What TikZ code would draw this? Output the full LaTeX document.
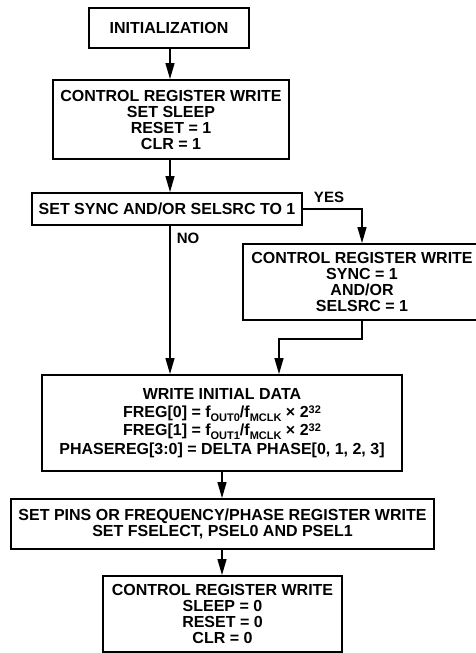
\documentclass[tikz,border=0pt]{standalone}
\usepackage{fontspec}
\setmainfont{Liberation Sans}
\usetikzlibrary{arrows.meta}
\lineskiplimit=-100pt
\lineskip=0pt
\newcommand{\sbx}[1]{\raisebox{-3.5pt}{\fontsize{11}{11}\selectfont #1}}
\newcommand{\spx}[1]{\raisebox{4.5pt}{\fontsize{11}{11}\selectfont #1}}
\begin{document}
\begin{tikzpicture}[x=1pt,y=-1pt,
  box/.style={draw, line width=1.9pt, align=center, inner sep=0pt,
    font=\fontsize{16}{16}\selectfont\bfseries},
  arr/.style={line width=1.3pt, -{Triangle[length=16pt,width=9pt]}},
  lbl/.style={font=\fontsize{15}{15}\selectfont\bfseries, inner sep=0pt}]
\useasboundingbox (0,0) rectangle (475,653);
\coordinate (cx) at (170,0);
\coordinate (cy) at (222,0);
\node[box, minimum width=160pt, minimum height=40pt] (b1) at (169,28) {INITIALIZATION};
\node[box, minimum width=236pt, minimum height=79pt] (b2) at (171,119.5)
  {CONTROL REGISTER WRITE\\SET SLEEP\\RESET = 1\\CLR = 1};
\node[box, minimum width=270pt, minimum height=32pt] (b3) at (167,209)
  {SET SYNC AND/OR SELSRC TO 1};
\node[box, minimum width=238pt, minimum height=76pt] (b4) at (362,282)
  {CONTROL REGISTER WRITE\\SYNC = 1\\AND/OR\\SELSRC = 1};
\node[box, minimum width=360pt, minimum height=96pt, font=\fontsize{16}{18.3}\selectfont\bfseries] (b5) at (222,423)
  {WRITE INITIAL DATA\\
   FREG[0] = f\sbx{OUT0}/f\sbx{MCLK} × 2\spx{32}\\
   FREG[1] = f\sbx{OUT1}/f\sbx{MCLK} × 2\spx{32}\\
   PHASEREG[3:0] = DELTA PHASE[0, 1, 2, 3]};
\node[box, minimum width=423pt, minimum height=50pt, font=\fontsize{16}{16.7}\selectfont\bfseries] (b6) at (222.5,524)
  {SET PINS OR FREQUENCY/PHASE REGISTER WRITE\\SET FSELECT, PSEL0 AND PSEL1};
\node[box, minimum width=239pt, minimum height=76pt] (b7) at (222.5,614)
  {CONTROL REGISTER WRITE\\SLEEP = 0\\RESET = 0\\CLR = 0};
\node[lbl] (yes) at (329,197.5) {YES};
\node[lbl] (no) at (188,238.7) {NO};
\coordinate (j) at (279,339);
\draw[arr] (b1.south -| cx) -- (b2.north -| cx);
\draw[arr] (b2.south -| cx) -- (b3.north -| cx);
\draw[arr] (b3.south -| cx) -- (b5.north -| cx);
\draw[arr] (b3.east) -| (b4.north);
\draw[arr] (b4.south) |- (j) -- (j |- b5.north);
\draw[arr] (b5.south -| cy) -- (b6.north -| cy);
\draw[arr] (b6.south -| cy) -- (b7.north -| cy);
\end{tikzpicture}
\end{document}
